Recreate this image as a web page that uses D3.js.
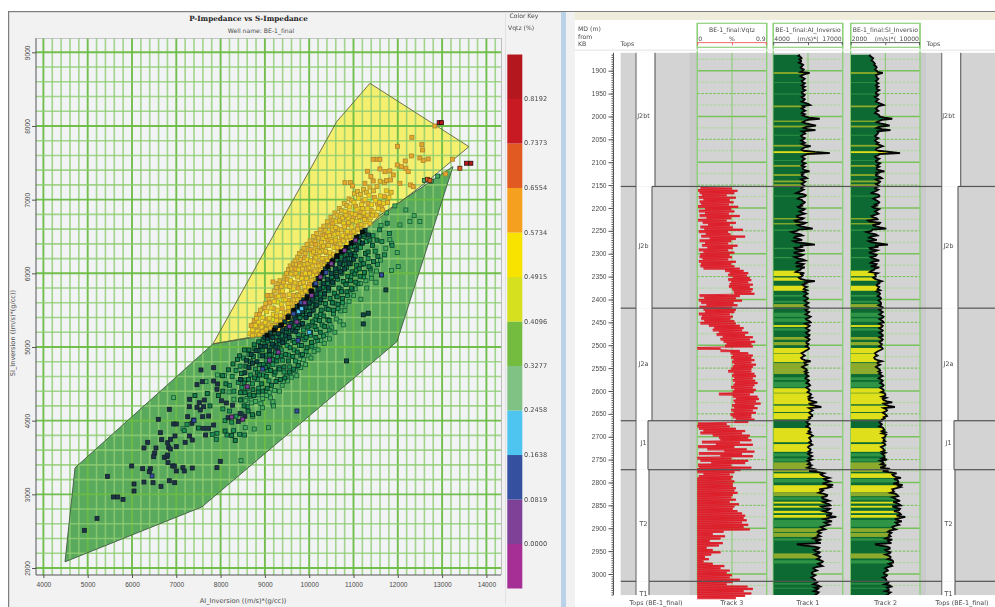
<!DOCTYPE html>
<html>
<head>
<meta charset="utf-8">
<title>P-Impedance vs S-Impedance</title>
<script src="https://cdn.jsdelivr.net/npm/d3@7/dist/d3.min.js"></script>
<style>
html, body { margin: 0; padding: 0; background: #fff; overflow: hidden; }
svg { display: block; filter: blur(0.45px); font-family: 'DejaVu Sans', sans-serif; }
text { fill: #4a4a4a; font-size: 6.6px; }
.axis path, .axis line { stroke: #555; }
</style>
</head>
<body>
<div id="chart"></div>
<script>
/* Crossplot */
var xTicks = [4000, 5000, 6000, 7000, 8000, 9000, 10000, 11000, 12000, 13000, 14000];
var yTicks = [2000, 3000, 4000, 5000, 6000, 7000, 8000, 9000];

var yellowPolygon = [[11371, 8579], [13606, 7719], [12703, 7267], [11327, 6633], [10695, 6294], [10311, 6046], [9792, 5598], [8956, 5164], [7828, 5042], [10620, 8058]];
var greenPolygon = [[7828, 5042], [4714, 3360], [4488, 2084], [7580, 2830], [11981, 5073], [13245, 7448], [11600, 6790], [11327, 6620], [10695, 6280], [10311, 6030], [9792, 5585], [8956, 5150]];

var keyLevels = [0, 0.0819, 0.1638, 0.2458, 0.3277, 0.4096, 0.4915, 0.5734, 0.6554, 0.7373, 0.8192];
var keyColors = ['#a62f96', '#7e4197', '#34509f', '#4dc5f0', '#7fc283', '#74bc40', '#d6e01e', '#f7e200', '#f5a01e', '#e05a22', '#c81a22', '#b5171f'];

var limePts = [[8740, 5300], [8900, 5290], [9020, 5240], [9180, 5370], [9290, 5610], [9410, 5640], [9520, 5460], [9600, 5780], [9740, 5710], [9870, 5750], [9960, 5940], [10130, 5940], [10250, 6290], [10370, 6110], [10510, 6260], [10600, 6490], [10790, 6450], [10920, 6700], [11120, 6710], [9380, 5340], [9180, 5260]];
var yellowPts = [[8660, 5180], [8720, 5230], [8760, 5170], [8790, 5290], [8830, 5210], [8860, 5340], [8900, 5180], [8930, 5270], [8950, 5400], [8990, 5220], [9010, 5330], [9040, 5480], [9070, 5260], [9100, 5390], [9120, 5190], [9140, 5530], [9170, 5300], [9190, 5440], [9210, 5620], [9240, 5230], [9260, 5360], [9280, 5500], [9310, 5690], [9330, 5310], [9350, 5430], [9370, 5580], [9400, 5760], [9420, 5290], [9440, 5470], [9460, 5640], [9490, 5830], [9510, 5380], [9530, 5540], [9550, 5710], [9580, 5900], [9600, 5450], [9620, 5610], [9640, 5790], [9660, 5980], [9690, 5510], [9710, 5680], [9730, 5860], [9760, 6050], [9790, 5600], [9810, 5750], [9830, 5930], [9860, 6120], [9880, 5670], [9900, 5820], [9920, 6000], [9950, 6190], [9980, 5730], [10000, 5900], [10020, 6080], [10050, 6260], [10070, 5810], [10090, 5970], [10110, 6160], [10140, 6330], [10170, 5880], [10190, 6050], [10210, 6230], [10240, 6400], [10260, 5960], [10280, 6120], [10300, 6310], [10330, 6470], [10360, 6040], [10380, 6200], [10400, 6380], [10430, 6550], [10450, 6110], [10470, 6280], [10490, 6460], [10520, 6620], [10540, 6190], [10560, 6350], [10580, 6530], [10610, 6700], [10640, 6260], [10660, 6430], [10680, 6600], [10710, 6770], [10740, 6340], [10760, 6510], [10780, 6680], [10810, 6840], [10840, 6400], [10860, 6570], [10880, 6750], [10910, 6900], [10940, 6460], [10960, 6630], [10980, 6810], [11010, 6960], [11040, 6520], [11060, 6700], [11080, 6870], [11110, 7020], [11140, 6590], [11160, 6760], [11180, 6930], [11220, 6650], [11240, 6820], [11260, 7000], [11300, 6700], [11320, 6880], [11350, 7060], [11390, 6760], [11410, 6930], [11460, 6830], [11500, 6990], [11560, 6880], [11610, 7050], [11680, 6950], [11740, 7120], [11800, 7030]];
var moreYellowPts = [[9530, 5480], [9560, 5820], [9570, 5590], [9590, 5990], [9630, 5520], [9660, 5640], [9680, 5870], [9700, 6000], [9730, 5640], [9740, 5950], [9770, 5700], [9790, 6100], [9800, 5860], [9840, 5730], [9850, 6060], [9870, 5880], [9900, 6120], [9920, 5760], [9940, 5930], [9970, 6130], [9990, 5810], [10010, 6000], [10030, 6170], [10060, 5900], [10080, 6100], [10100, 6290], [10130, 6030], [10150, 6210], [10170, 5970], [10190, 6310], [10220, 6100], [10240, 6290], [10250, 6040], [10280, 6420], [10290, 6200], [10320, 6370], [10340, 6110], [10370, 6300], [10390, 6500], [10410, 6170], [10440, 6380], [10460, 6510], [10480, 6220], [10510, 6430], [10530, 6590], [10550, 6260], [10590, 6450], [10600, 6620], [10630, 6350], [10650, 6540], [10680, 6720], [10700, 6400], [10730, 6590], [10750, 6750], [10770, 6440], [10800, 6630], [10830, 6790], [10850, 6490], [10890, 6690], [10920, 6500], [10970, 6720], [11010, 6570], [11040, 6800], [11090, 6600], [11130, 6770], [11170, 6660], [11200, 6880], [11250, 6730], [11310, 6790], [11370, 6680], [11430, 6790], [11520, 6790], [11590, 6960], [11660, 6860], [11770, 6960], [11850, 7100], [8720, 5160], [8810, 5390], [8870, 5170], [8940, 5210], [9030, 5240], [9090, 5300], [9130, 5260], [9210, 5290], [9260, 5420], [9320, 5240], [9360, 5350], [9440, 5340], [9480, 5460], [9560, 5420], [9520, 5590], [9620, 5530]];
var upperYellowPts = [[9210, 5760], [9260, 5810], [9300, 5860], [9340, 5900], [9370, 5820], [9420, 5880], [9450, 5950], [9490, 6000], [9530, 6050], [9570, 6100], [9600, 6060], [9640, 6130], [9680, 6170], [9710, 6120], [9740, 6220], [9780, 6270], [9810, 6190], [9840, 6300], [9880, 6340], [9910, 6270], [9950, 6390], [9990, 6320], [10020, 6440], [10060, 6400], [10100, 6500], [10130, 6430], [10170, 6540], [10210, 6480], [10250, 6590], [10290, 6520], [10330, 6640], [10370, 6580], [10410, 6700], [10450, 6640], [10490, 6760], [10540, 6720], [10580, 6820], [10630, 6790], [10680, 6880], [10730, 6850], [10790, 6950], [10850, 6920], [10900, 7010], [10960, 6990], [11020, 7080], [11090, 7110], [11160, 7070], [11230, 7140], [11290, 7100], [11370, 7170], [11450, 7120], [11530, 7180], [11600, 7250], [11700, 7230], [9140, 5700], [9090, 5650], [9020, 5590], [8960, 5520], [8900, 5500], [8820, 5440]];
var orangePts = [[8690, 5290], [8760, 5360], [8820, 5280], [8880, 5440], [8950, 5310], [9000, 5530], [9060, 5370], [9110, 5600], [9160, 5250], [9200, 5520], [9250, 5680], [9300, 5400], [9340, 5750], [9390, 5520], [9430, 5700], [9470, 5400], [9500, 5920], [9540, 5630], [9570, 5490], [9610, 5870], [9650, 5700], [9680, 6060], [9700, 5590], [9750, 5800], [9780, 6130], [9820, 5680], [9850, 5990], [9890, 6210], [9930, 5790], [9970, 6060], [10010, 5850], [10040, 6320], [10080, 6010], [10120, 6230], [10150, 6390], [10200, 6140], [10230, 5990], [10270, 6350], [10310, 6180], [10340, 6520], [10390, 6280], [10420, 6450], [10460, 6190], [10500, 6540], [10530, 6680], [10570, 6420], [10620, 6610], [10650, 6330], [10700, 6700], [10730, 6470], [10770, 6760], [10820, 6540], [10870, 6660], [10900, 6820], [10950, 6550], [11000, 6760], [11050, 6910], [11100, 6640], [11150, 6840], [11210, 6980], [11270, 6760], [11330, 6950], [11400, 6850], [11470, 7030], [11540, 6950], [11630, 6920], [11700, 7040], [12318, 7846], [12543, 7747], [12558, 7674], [11994, 7724], [11445, 7548], [11536, 7548], [11596, 7548], [12310, 7593], [12498, 7566], [12573, 7530], [12686, 7552], [12167, 7525], [11987, 7471], [12085, 7448], [12182, 7426], [12235, 7380], [11596, 7417], [11317, 7385], [11709, 7380], [11821, 7390], [11897, 7335], [11393, 7313], [11445, 7254], [11746, 7258], [11836, 7267], [12047, 7222], [12288, 7200], [12348, 7177], [13077, 7349], [13235, 7548], [10806, 7231], [10934, 7231], [10979, 7186], [11257, 7222], [12837, 8000], [9183, 5883], [9050, 5700]];
var hotPts = [[12671, 7276], [12724, 7258], [13401, 7426]];
var redPts = [[12934, 8045], [12985, 8045], [13551, 7494], [13649, 7494]];

var lightGreenPts = [[8600, 4300], [8700, 4240], [8850, 4350], [8950, 4300], [9020, 4410], [9100, 4380], [9180, 4230], [9290, 4560], [9390, 4480], [9480, 4600], [9580, 4640], [9690, 4680], [9760, 4790], [9870, 4830], [9990, 4880], [10110, 4940], [10200, 4960], [10340, 5050], [10460, 5110], [10580, 5200], [10690, 5350], [10770, 5300], [10470, 5300], [10806, 5494], [10580, 5594], [10900, 5620], [11000, 5700], [11167, 5648], [11300, 5800], [11408, 5933], [11506, 5879], [11633, 5978], [11859, 6037], [12009, 6091], [11987, 6281], [11859, 6408], [12047, 6657], [12273, 6702], [12370, 6783], [12498, 6702], [12182, 6860], [11934, 6915], [11750, 6820], [11620, 6650], [12600, 7260], [12900, 7320], [12760, 7250], [6940, 4312], [7150, 3890], [8459, 3457], [8760, 3887], [9083, 3905], [8730, 4059], [8948, 4176], [9196, 4199], [9181, 4258], [8557, 3905], [7670, 4530], [7930, 4620], [8090, 4610], [8190, 4390], [8300, 4290], [8480, 4290], [8570, 4270], [8680, 4330], [8790, 4260], [8910, 4230], [9040, 4340], [9130, 4310], [9220, 4410], [9330, 4400], [9410, 4530], [9510, 4540], [9600, 4590], [9720, 4610], [9810, 4720], [9920, 4760], [10040, 4850], [10130, 5020], [10260, 5090], [10380, 5170], [10500, 5260], [10610, 5380], [10710, 5490], [10810, 5570], [10920, 5720], [11040, 5790], [11160, 5860], [11280, 5900], [11400, 5990], [11520, 6030], [11610, 6180], [11730, 6340], [11820, 6460]];
var greenPts = [[8200, 4480], [8260, 4600], [8300, 4400], [8350, 4680], [8400, 4520], [8440, 4740], [8480, 4450], [8520, 4850], [8560, 4550], [8600, 4430], [8640, 4900], [8680, 4620], [8720, 4500], [8760, 4980], [8790, 4700], [8830, 4560], [8860, 4440], [8890, 4880], [8920, 4760], [8960, 4620], [9000, 5040], [9030, 4820], [9060, 4680], [9090, 4540], [9120, 5090], [9150, 4900], [9180, 4760], [9210, 4630], [9250, 5140], [9280, 4870], [9310, 4720], [9340, 5170], [9370, 4960], [9400, 4820], [9430, 4660], [9470, 5240], [9500, 5020], [9530, 4890], [9560, 4730], [9600, 5310], [9630, 5090], [9660, 4960], [9690, 4810], [9720, 5440], [9750, 5170], [9780, 5020], [9810, 4880], [9840, 5420], [9870, 5230], [9900, 5100], [9930, 4940], [9970, 5480], [10000, 5290], [10030, 5160], [10060, 5010], [10100, 5580], [10130, 5370], [10160, 5240], [10190, 5090], [10230, 5680], [10260, 5440], [10290, 5300], [10320, 5150], [10360, 5780], [10390, 5520], [10420, 5370], [10450, 5230], [10490, 5890], [10520, 5600], [10550, 5450], [10590, 5960], [10620, 5690], [10650, 5520], [10690, 6030], [10720, 5780], [10750, 5600], [10800, 6120], [10830, 5860], [10860, 5700], [10910, 6200], [10940, 5950], [10970, 5780], [11020, 6260], [11060, 6040], [11100, 5860], [11160, 6350], [11190, 6120], [11230, 5950], [11290, 6430], [11330, 6200], [11380, 6060], [11440, 6510], [11490, 6300], [11540, 6120], [11590, 6590], [11640, 6430], [11700, 6250], [11760, 6680], [11810, 6540], [11870, 6380], [8143, 3805], [8294, 3864], [8429, 3814], [8542, 3805], [7918, 3828], [7903, 3747], [7812, 3814], [8050, 4160], [8200, 4130], [8350, 4060], [8480, 4090], [8600, 4190], [8100, 4000], [8250, 3980], [7180, 3864], [7240, 3950]];
var moreGreenPts = [[8450, 4380], [8470, 4640], [8430, 4880], [8550, 4380], [8530, 4510], [8570, 4740], [8540, 4960], [8650, 4350], [8630, 4560], [8670, 4800], [8640, 4960], [8750, 4340], [8730, 4420], [8770, 4580], [8740, 4870], [8760, 5030], [8850, 4390], [8830, 4650], [8870, 4760], [8840, 4950], [8860, 5070], [8950, 4400], [8930, 4500], [8970, 4760], [8940, 4960], [8960, 5100], [9050, 4440], [9030, 4600], [9070, 4750], [9040, 4890], [9060, 5080], [9150, 4480], [9130, 4680], [9170, 4830], [9140, 5000], [9160, 5140], [9250, 4530], [9230, 4660], [9270, 4810], [9240, 4930], [9260, 5070], [9230, 5200], [9350, 4560], [9330, 4700], [9370, 4880], [9340, 5030], [9360, 5130], [9330, 5250], [9450, 4580], [9430, 4730], [9470, 4900], [9440, 5080], [9460, 5200], [9430, 5300], [9550, 4660], [9530, 4810], [9570, 4990], [9540, 5190], [9560, 5360], [9650, 4700], [9630, 4870], [9670, 5060], [9640, 5280], [9660, 5420], [9750, 4750], [9730, 4930], [9770, 5110], [9740, 5260], [9760, 5380], [9730, 5510], [9850, 4900], [9830, 5020], [9870, 5160], [9840, 5300], [9860, 5440], [9830, 5580], [9950, 4990], [9930, 5130], [9970, 5270], [9940, 5430], [9960, 5590], [9930, 5660], [10050, 5060], [10030, 5200], [10070, 5340], [10040, 5490], [10060, 5620], [10030, 5740], [10150, 5130], [10130, 5280], [10170, 5420], [10140, 5560], [10160, 5660], [10130, 5800], [10250, 5200], [10230, 5360], [10270, 5500], [10240, 5600], [10260, 5720], [10230, 5880], [10350, 5280], [10330, 5420], [10370, 5590], [10340, 5680], [10360, 5830], [10330, 5960], [10450, 5360], [10430, 5510], [10470, 5660], [10440, 5770], [10460, 5900], [10430, 6060], [10550, 5500], [10530, 5600], [10570, 5730], [10540, 5850], [10560, 5980], [10530, 6120], [10650, 5580], [10630, 5680], [10670, 5800], [10640, 5920], [10660, 6060], [10630, 6180], [10750, 5660], [10730, 5750], [10770, 5890], [10740, 6000], [10760, 6120], [10730, 6220], [10850, 5750], [10830, 5850], [10870, 5960], [10840, 6080], [10860, 6200], [10830, 6300], [10950, 5800], [10930, 5900], [10970, 6020], [10940, 6130], [10960, 6270], [10930, 6360], [11050, 5880], [11030, 5990], [11070, 6110], [11040, 6230], [11060, 6390], [11150, 5960], [11130, 6060], [11170, 6190], [11140, 6420], [11250, 6010], [11230, 6130], [11270, 6270], [11240, 6500], [11350, 6090], [11330, 6290], [11370, 6450], [11450, 6160], [11430, 6380], [11550, 6230], [11530, 6450], [7950, 4340], [8050, 4400], [8120, 4500], [8040, 4610], [8180, 4690], [8280, 4770], [8380, 4830], [8450, 4280], [8530, 4200], [8620, 4130], [8720, 4080], [8860, 4100], [8100, 3860], [8250, 3800], [8330, 3730], [7500, 3900], [7420, 4340], [7700, 4370], [7760, 4200], [8880, 4620], [9010, 4720], [9110, 4890], [9200, 5020], [9290, 4990], [9390, 5150], [9490, 5110], [9580, 5210], [9680, 5300], [9790, 5400], [9890, 5510], [9990, 5540], [10110, 5630], [10210, 5780], [10310, 5810], [10410, 5860], [10510, 5950], [10610, 6040], [10710, 6150], [10810, 6260], [10900, 6290], [11020, 6360], [11120, 6430], [11220, 6530]];
var darkPts = [[9000, 5130], [9060, 5120], [9130, 5190], [9180, 5130], [9240, 5260], [9300, 5180], [9350, 5290], [9400, 5220], [9450, 5340], [9490, 5250], [9540, 5420], [9590, 5320], [9640, 5490], [9680, 5380], [9730, 5550], [9770, 5450], [9810, 5570], [9850, 5480], [9880, 5640], [9930, 5540], [9960, 5690], [10000, 5600], [10040, 5760], [10080, 5650], [10120, 5840], [10160, 5720], [10200, 5930], [10240, 5790], [10290, 5990], [10330, 5860], [10370, 6060], [10410, 5920], [10450, 6120], [10500, 6000], [10540, 6180], [10590, 6060], [10640, 6240], [10690, 6130], [10750, 6290], [10810, 6190], [10870, 6350], [10930, 6250], [11000, 6420], [11060, 6320], [11130, 6500], [11200, 6410], [11260, 6580], [11340, 6520], [8800, 4950], [8900, 5010], [8950, 4880], [9020, 5010], [9100, 4950], [9170, 5040], [9250, 5000], [9320, 5090], [9400, 5060], [9470, 5150], [9550, 5130], [9620, 5230], [9700, 5210], [9770, 5300], [9850, 5320], [9930, 5400], [10010, 5440], [10090, 5500], [10170, 5570], [10260, 5640], [10350, 5720], [10440, 5800], [10530, 5880], [10620, 5960], [10710, 6020], [10800, 6060], [10900, 6130], [11000, 6190], [8550, 4650], [8640, 4720], [8720, 4780], [8820, 4800], [8450, 4560], [8580, 4820], [8690, 4900], [11220, 5436], [11333, 5458], [11220, 5313], [10844, 4811], [11731, 5775]];
var seamPts = [[9050, 5160], [9210, 5230], [9380, 5300], [9520, 5400], [9660, 5500], [9780, 5560], [9860, 5610], [9950, 5670], [10050, 5760], [10150, 5850], [10240, 5930], [10320, 6010], [10420, 6090], [10520, 6160], [10620, 6230], [10720, 6290], [10830, 6350], [10950, 6410], [11070, 6490], [11200, 6560]];
var sparsePts = [[4925, 2511], [5210, 2674], [5444, 3244], [5579, 2964], [5677, 2964], [5797, 2932], [5993, 3385], [6045, 3140], [6045, 3045], [6270, 3629], [6240, 3348], [6270, 3167], [6354, 3706], [6414, 3348], [6391, 3308], [6474, 3158], [6542, 3629], [6512, 3561], [6489, 3511], [6594, 4018], [6654, 3108], [6639, 3837], [6669, 3742], [6730, 3502], [6790, 3511], [6805, 3701], [6827, 3638], [6865, 3615], [6805, 3534], [6812, 3430], [6842, 4154], [6842, 3185], [6918, 3385], [6955, 3385], [6963, 3158], [6872, 3747], [6940, 3955], [7000, 3955], [6970, 3792], [7000, 3317], [7150, 3362], [7180, 3317], [7361, 3357], [7200, 3706], [7300, 3792], [7361, 3737], [7000, 3647], [7557, 4688], [7843, 4719], [7467, 4489], [7587, 4529], [7843, 4538], [7933, 4498], [7918, 4425], [7301, 4290], [7294, 4190], [7519, 4244], [7632, 4280], [7467, 4181], [7617, 4190], [7542, 4145], [7256, 4054], [7391, 4009], [7595, 4054], [7730, 4063], [7354, 3964], [7617, 3896], [7730, 3896], [7843, 3941], [7662, 3805], [7993, 3448], [7918, 3362], [8020, 4270], [8130, 4240], [8270, 4210], [8440, 4100], [8550, 4060], [8170, 4040], [8400, 3990]];
var purplePts = [[9550, 5280], [9720, 5340], [9900, 5600], [10050, 5700], [10250, 5950], [10500, 6130], [10800, 6310], [11050, 6450], [9300, 4930], [9100, 4820], [8600, 4460], [8250, 4050], [8500, 4020]];
var bluePts = [[9650, 5450], [9820, 5600], [10150, 5860], [10380, 6010], [9750, 5090], [8950, 4700], [9723, 4131], [11633, 5978], [6451, 3249], [7400, 4000]];
var cyanPts = [[9760, 5480], [9830, 5520], [10000, 5200]];

/* Well log */
var depthLabels = [1900, 1950, 2000, 2050, 2100, 2150, 2200, 2250, 2300, 2350, 2400, 2450, 2500, 2550, 2600, 2650, 2700, 2750, 2800, 2850, 2900, 2950, 3000];
var topNames = ['J2bt', 'J2b', 'J2a', 'J1', 'T2', 'T1'];
var topDepths = [1861, 2153, 2419, 2665, 2772, 3016];
var topLabelDepths = [1999, 2283, 2540, 2713, 2890, 3043];

// sampled every 5 m from 1865, the *Between lists sit 2.5 m below each sample
var aiStart = 1865;
var aiInversion = [
  9000, 9100, 8900, 9200, 9300, 9400, 9300, 9500, 10800, 9400,
  9500, 9700, 9400, 9600, 9900, 9500, 9700, 9400, 9800, 9500,
  9700, 9900, 10900, 9800, 9600, 9500, 9900, 10000, 12700, 9900,
  10100, 12000, 9700, 11900, 9800, 9500, 9400, 9700, 9500, 9300,
  11000, 9500, 9700, 14600, 9800, 9500, 9600, 9400, 9600, 9900,
  9500, 10800, 9700, 9400, 10300, 9500, 9700, 9600, 9300, 9700,
  8800, 9600, 9900, 8600, 9500, 9700, 9400, 8900, 9600, 9300,
  9100, 8500, 9400, 8200, 9700, 9100, 11400, 8400, 8000, 9500,
  7900, 9400, 8300, 11800, 9600, 8200, 9100, 8500, 9200, 8600,
  10000, 8300, 9400, 9900, 9100, 8200, 9200, 9300, 9100, 11800,
  10200, 9700, 9900, 10300, 10100, 10000, 10200, 10300, 10100, 10300,
  10300, 10500, 10200, 10400, 10500, 10700, 10300, 11000, 10400, 10500,
  10400, 10600, 10300, 10700, 10500, 10600, 10200, 10400, 10600, 10400,
  9700, 9600, 9500, 9400, 11000, 9900, 9800, 9800, 10300, 10400,
  10300, 10200, 10400, 10500, 10700, 10600, 10500, 10700, 10800, 10900,
  11200, 10700, 12200, 11000, 13000, 11100, 11000, 10900, 11300, 10900,
  10600, 10400, 10500, 10700, 10900, 11000, 11100, 11000, 10900, 11100,
  11000, 10800, 10700, 10900, 11100, 10800, 10900, 11200, 10700, 10500,
  10900, 11500, 10700, 13500, 13200, 14500, 13800, 14000, 15200, 14800,
  12600, 13000, 13500, 14000, 13200, 14500, 13800, 14700, 13400, 14300,
  14000, 14800, 15800, 13500, 15000, 14000, 13700, 13300, 12500, 12900,
  12300, 12000, 13000, 12200, 8400, 11800, 12400, 11900, 12500, 12200,
  12600, 12900, 13100, 12800, 12000, 11800, 11500, 11300, 11600, 11400,
  11700, 12000, 12400, 11800, 12100, 12500, 11900, 12100, 11800, 11600
];
var aiBetween = [
  8700, 9300, 9200, 8800, 9600, 9100, 9700, 9100, 9900, 9100,
  9900, 9300, 9900, 9300, 9500, 10000, 9300, 9900, 9300, 9900,
  9300, 10500, 9500, 9300, 10000, 9300, 9500, 10700, 10400, 9500,
  11000, 10300, 10400, 9400, 10000, 9200, 9900, 9200, 9900, 9800,
  9900, 9300, 11800, 10300, 9300, 9900, 9300, 10000, 9300, 9500,
  9900, 9400, 9300, 10000, 9200, 10000, 9300, 9900, 9200, 9300,
  8300, 10100, 8900, 9400, 9900, 9200, 8600, 9900, 8900, 9900,
  8400, 9700, 8000, 10100, 8600, 10200, 8700, 7400, 9100, 8100,
  8800, 7800, 10200, 9000, 8000, 9900, 7800, 9600, 8000, 9500,
  8500, 9700, 8200, 9200, 8500, 9800, 9500, 8800, 10000, 10000,
  9500, 10300, 9700, 9700, 10400, 9700, 10500, 9800, 10600, 9900,
  10700, 10000, 10700, 10000, 11000, 10100, 10800, 10000, 10800, 10100,
  10800, 10100, 10800, 10100, 10800, 10200, 10600, 10100, 10700, 10000,
  9300, 9900, 9200, 9900, 9800, 10300, 9400, 10200, 9900, 10000,
  10600, 10000, 10700, 10200, 10900, 10200, 10800, 10400, 11100, 10600,
  10600, 11500, 10800, 12000, 10700, 11400, 10700, 11300, 10700, 10500,
  10200, 10800, 10200, 10900, 10600, 10500, 11400, 10700, 11000, 10700,
  11300, 10500, 11000, 10600, 10500, 11300, 10600, 10400, 10900, 11200,
  10400, 12200, 12400, 12900, 13800, 13500, 14600, 13200, 14300, 14000,
  13300, 12500, 14100, 13100, 13900, 13300, 14500, 13000, 14600, 13300,
  14900, 13900, 14500, 14200, 13600, 14500, 12900, 13700, 12300, 12500,
  12800, 11500, 12000, 12900, 9500, 12600, 11600, 12700, 11700, 12800,
  12200, 13300, 12400, 13200, 11500, 12200, 11200, 11900, 11100, 11800,
  12300, 11500, 12800, 12400, 11600, 12300, 11700, 12600, 12100, 12000
];
var siInversion = [
  4300, 4400, 4500, 4600, 4800, 4900, 4900, 5000, 5700, 4900,
  5000, 5100, 5000, 5000, 5200, 5000, 5100, 4900, 5100, 5000,
  5000, 5200, 5800, 5100, 5000, 4900, 5100, 5300, 6800, 5300,
  5400, 6500, 5000, 6600, 5200, 5000, 4900, 5000, 4900, 5000,
  5700, 5000, 5200, 7700, 5200, 4900, 5100, 5000, 5200, 5300,
  5000, 5900, 5200, 5000, 5600, 5100, 5300, 5100, 4900, 5200,
  4700, 5100, 5300, 4600, 5100, 5200, 5000, 4700, 5100, 5000,
  4800, 4500, 5100, 4200, 5300, 4900, 6100, 4400, 4200, 5100,
  4100, 5000, 4400, 6300, 5200, 4300, 4800, 4500, 4900, 4500,
  5300, 4300, 4900, 5300, 4700, 4200, 4800, 4900, 4800, 5600,
  5300, 5000, 5200, 5400, 5300, 5300, 5400, 5400, 5400, 5500,
  5500, 5600, 5500, 5500, 5600, 5700, 5500, 5800, 5500, 5600,
  5500, 5600, 5500, 5700, 5500, 5600, 5400, 5500, 5600, 5500,
  5000, 4900, 4800, 4800, 5600, 5100, 5100, 5100, 5400, 5500,
  5500, 5400, 5500, 5600, 5700, 5700, 5600, 5800, 5900, 6000,
  6100, 5800, 6800, 6000, 7100, 6100, 6000, 5900, 6200, 5900,
  5600, 5400, 5500, 5700, 5900, 6000, 6100, 6000, 5900, 6000,
  5900, 5800, 5700, 5900, 6000, 5800, 5900, 6200, 5700, 5500,
  5900, 6400, 5700, 7300, 6900, 7800, 7400, 7500, 8000, 7800,
  6800, 7000, 7200, 7500, 7100, 7700, 7300, 7800, 7200, 7600,
  7500, 7800, 8300, 7100, 7900, 7400, 7100, 6900, 6500, 6700,
  6400, 6300, 6800, 6400, 4800, 6200, 6500, 6200, 6500, 6400,
  6600, 6800, 6900, 6700, 6300, 6200, 6000, 5900, 6100, 6000,
  6100, 6300, 6500, 6200, 6400, 6600, 6300, 6400, 6200, 6100
];
var siBetween = [
  4200, 4600, 4400, 4700, 4700, 5000, 4800, 5100, 5200, 5000,
  5200, 4900, 5200, 4900, 5000, 5300, 4900, 5200, 4800, 5200,
  4900, 5500, 5200, 4900, 5200, 4800, 5300, 5900, 5600, 5000,
  6000, 5300, 5600, 5100, 5100, 4800, 5200, 4800, 5200, 5400,
  5300, 4900, 6500, 5300, 4800, 5300, 4900, 5400, 5000, 5000,
  5300, 5000, 4900, 5400, 4900, 5400, 4900, 5300, 4800, 5000,
  4300, 5300, 4900, 4900, 5300, 4800, 4500, 5300, 4800, 5200,
  4400, 5000, 4000, 5400, 4500, 5400, 4500, 3800, 4900, 4300,
  4600, 4100, 5300, 4800, 4200, 5100, 4100, 5000, 4300, 4900,
  4500, 5000, 4300, 4800, 4400, 5100, 4900, 4600, 5200, 5200,
  5000, 5300, 5100, 5000, 5400, 5100, 5500, 5200, 5500, 5200,
  5700, 5300, 5700, 5300, 5800, 5300, 5700, 5300, 5700, 5300,
  5700, 5300, 5700, 5300, 5700, 5300, 5600, 5300, 5700, 5200,
  4800, 5100, 4700, 5100, 5100, 5400, 4900, 5300, 5200, 5300,
  5700, 5200, 5700, 5400, 5800, 5400, 5800, 5500, 6000, 5600,
  5700, 6200, 5800, 6400, 5800, 6200, 5700, 6100, 5800, 5600,
  5300, 5600, 5300, 5800, 5600, 5600, 6000, 5700, 5800, 5700,
  6000, 5500, 5800, 5600, 5600, 5900, 5600, 5400, 5800, 6000,
  5400, 6300, 6400, 6800, 7200, 7000, 7500, 6900, 7500, 7300,
  6900, 6600, 7400, 6800, 7300, 6900, 7600, 6800, 7700, 7000,
  7700, 7300, 7800, 7500, 7200, 7600, 6800, 7200, 6300, 6500,
  6600, 6000, 6300, 6700, 5300, 6500, 6000, 6600, 6000, 6600,
  6300, 6900, 6400, 6800, 6000, 6300, 5800, 6200, 5700, 6100,
  6400, 5900, 6700, 6400, 6000, 6400, 6000, 6500, 6200, 6100
];

var vqtzStart = 2155;
var vqtzLow = [
  .04, .01, .03, .06, .02, .08, .03, .05, .01, .10,
  .02, .10, .03, .12, .01, .07, .14, .04, .09, .02,
  .11, .05, .16, .03, .10, .06, .13, .02, .08, .04,
  .03, .07, .02, .05, .04, .08, .36, .42, .40, .46,
  .40, .44, .42, .41, .45, .47, .48, .03, .09, .02,
  .05, .12, .03, .08, .10, .02, .06, .05, .09, .04,
  .15, .22, .20, .28, .25, .33, .30, .34, .38, .36,
  .00, .30, .43, .46, .44, .47, .45, .48, .46, .44,
  .40, .47, .45, .48, .46, .49, .47, .44, .48, .46,
  .28, .46, .50, .47, .49, .45, .48, .44, .47, .43,
  .46, .50, .48, .01, .00, .02, .08, .04, .20, .28,
  .30, .06, .24, .01, .13, .35, .02, .30, .00, .04,
  .18, .01, .02, .00, .00, .08, .02, .00, .00, .00,
  .00, .00, .00, .00, .00, .00, .00, .00, .00, .00,
  .00, .00, .00, .00, .00, .00, .00, .00, .00, .00,
  .00, .00, .00, .00, .00, .00, .00, .00, .00, .00,
  .00, .00, .00, .00, .00, .00, .00, .00, .00, .00,
  .00, .00, .00, .00, .00, .00, .00, .00, .00, .00
];
var vqtzHigh = [
  .45, .52, .48, .38, .50, .42, .47, .41, .53, .44,
  .48, .41, .55, .44, .38, .50, .42, .46, .59, .40,
  .43, .62, .50, .44, .40, .52, .46, .40, .48, .42,
  .45, .40, .50, .44, .48, .55, .60, .66, .64, .68,
  .70, .66, .72, .68, .72, .70, .74, .55, .50, .58,
  .47, .52, .45, .50, .48, .42, .46, .43, .48, .50,
  .55, .60, .58, .66, .62, .72, .68, .75, .70, .72,
  .30, .55, .66, .72, .70, .74, .70, .76, .72, .70,
  .70, .74, .76, .72, .75, .78, .74, .72, .76, .73,
  .68, .78, .80, .76, .82, .74, .78, .72, .76, .70,
  .70, .74, .66, .38, .42, .50, .62, .58, .68, .66,
  .70, .55, .72, .48, .64, .74, .58, .72, .44, .66,
  .62, .44, .70, .56, .48, .42, .46, .44, .48, .46,
  .46, .50, .48, .52, .46, .44, .50, .42, .54, .48,
  .46, .52, .58, .62, .60, .64, .58, .66, .60, .68,
  .34, .20, .36, .30, .16, .33, .28, .12, .20, .30,
  .18, .10, .15, .08, .20, .35, .30, .42, .38, .45,
  .42, .55, .46, .38, .65, .72, .60, .70, .62, .50
];

// lithology intervals in the impedance tracks: top, base, class
var bandClassColors = ['#2f9446', '#8cab2c', '#dfe01b', '#0e6a33'];
var trackBands = [
  [1861, 3050, 3],
  [1903, 1907, 1], [1925, 1927, 0], [1950, 1952, 0], [1976, 1980, 1], [2009, 2012, 1], [2020, 2024, 1], [2040, 2042, 0],
  [2062, 2066, 1], [2076, 2080, 2], [2095, 2097, 0], [2106, 2110, 1], [2126, 2130, 1], [2140, 2144, 1], [2148, 2152, 1],
  [2173, 2175, 0], [2222, 2225, 1], [2233, 2236, 1], [2247, 2250, 0], [2287, 2290, 0], [2307, 2310, 0],
  [2337, 2349, 2], [2352, 2359, 2], [2370, 2381, 2], [2390, 2394, 0], [2403, 2407, 0], [2410, 2417, 1],
  [2429, 2438, 0], [2441, 2449, 0], [2456, 2460, 2], [2463, 2468, 0], [2482, 2488, 1], [2493, 2500, 1],
  [2506, 2517, 2], [2518, 2537, 2], [2539, 2563, 1], [2570, 2576, 0], [2580, 2592, 0], [2594, 2604, 2],
  [2605, 2629, 2], [2632, 2646, 2], [2648, 2662, 2], [2681, 2712, 2], [2716, 2733, 2], [2736, 2743, 0],
  [2747, 2754, 0], [2756, 2764, 1], [2764, 2777, 1], [2780, 2790, 2], [2792, 2800, 0], [2806, 2821, 2],
  [2821, 2830, 1], [2832, 2838, 0], [2842, 2846, 2], [2851, 2855, 2], [2862, 2867, 2], [2871, 2877, 2],
  [2882, 2897, 0], [2900, 2908, 1], [2910, 2919, 1], [2922, 2927, 0], [2955, 2966, 1], [2970, 2977, 0],
  [3020, 3023, 0], [3030, 3032, 0]
];

var width = 995;
var height = 607;

var svg = d3.select('#chart').append('svg').attr('width', width).attr('height', height);

/* Panels */
function box(x, y, w, h, fill) {
  return svg.append('rect').attr('x', x).attr('y', y).attr('width', w).attr('height', h).attr('fill', fill);
}
box(8, 11, 553, 596, '#f2f2f2');
box(8, 11, 987, 1.2, '#7d7d7d');
box(8, 11, 1.2, 596, '#7d7d7d');
box(561, 12, 5, 595, '#b9d2e8');
box(566, 12, 9, 595, '#f1f1f1');
box(575, 12, 420, 8, '#efecdc');
box(505, 14, 0.8, 590, '#dcdcdc');

/* Crossplot scales */
var xScale = d3.scaleLinear().domain([4000, 14000]).range([43.4, 486.4]);
var yScale = d3.scaleLinear().domain([2000, 9000]).range([568, 52.3]);
var plotLeft = 36, plotRight = 501, plotTop = 38, plotBottom = 575;

box(plotLeft, plotTop, plotRight - plotLeft, plotBottom - plotTop, '#f1f3f5');
var plot = svg.append('g');

var polyLine = d3.line().x(d => xScale(d[0])).y(d => yScale(d[1])).curve(d3.curveLinearClosed);
plot.append('path').attr('d', polyLine(greenPolygon)).attr('fill', '#5aaa5e');
plot.append('path').attr('d', polyLine(yellowPolygon)).attr('fill', '#f4ef6e');

var gridX = d3.range(4000, 14400, 200);
var gridY = d3.range(2000, 9200, 200);

plot.selectAll('.gx').data(gridX).join('line').attr('class', 'gx')
  .attr('x1', d => xScale(d)).attr('x2', d => xScale(d))
  .attr('y1', plotTop).attr('y2', plotBottom)
  .attr('stroke', d => d % 1000 === 0 ? '#6cbc44' : '#8fcc70')
  .attr('stroke-opacity', d => d % 1000 === 0 ? 0.95 : 0.8)
  .attr('stroke-width', d => d % 1000 === 0 ? 1.9 : 1.6);
plot.selectAll('.gy').data(gridY).join('line').attr('class', 'gy')
  .attr('x1', plotLeft).attr('x2', plotRight)
  .attr('y1', d => yScale(d)).attr('y2', d => yScale(d))
  .attr('stroke', d => d % 1000 === 0 ? '#6cbc44' : '#8fcc70')
  .attr('stroke-opacity', d => d % 1000 === 0 ? 0.95 : 0.8)
  .attr('stroke-width', d => d % 1000 === 0 ? 1.9 : 1.6);

plot.append('path').attr('d', polyLine(greenPolygon)).attr('fill', 'none').attr('stroke', '#3d5a3d').attr('stroke-width', 0.9);
plot.append('path').attr('d', polyLine(yellowPolygon)).attr('fill', 'none').attr('stroke', '#5f6340').attr('stroke-width', 0.9);

/* Scatter, drawn through the colour key */
var keyColor = d3.scaleThreshold().domain(keyLevels).range(keyColors);
var groups = [
  { pts: lightGreenPts, vqtz: 0.30, fill: '#49ad5c', stroke: '#14583a' },
  { pts: greenPts, vqtz: 0.36, fill: '#1f9350', stroke: '#0d3c30' },
  { pts: moreGreenPts, vqtz: 0.36, fill: '#14804a', stroke: '#07281f' },
  { pts: limePts, vqtz: 0.45, stroke: '#8e9a30' },
  { pts: upperYellowPts, vqtz: 0.55, fill: '#e0b828', stroke: '#a88a34' },
  { pts: orangePts, vqtz: 0.6, fill: '#e3a92a', stroke: '#ae8230' },
  { pts: yellowPts, vqtz: 0.53, fill: '#e9cf1c', stroke: '#b39a30' },
  { pts: moreYellowPts, vqtz: 0.53, fill: '#e4c224', stroke: '#ab8a30' },
  { pts: sparsePts, vqtz: 0.1, fill: '#1d3247', stroke: '#16202c' },
  { pts: darkPts, vqtz: 0.2, fill: '#0e4a45', stroke: '#08161a' },
  { pts: seamPts, vqtz: 0.1, fill: '#07100f', stroke: '#050808' },
  { pts: bluePts, vqtz: 0.12, stroke: '#131c38' },
  { pts: purplePts, vqtz: 0.04, stroke: '#22122c' },
  { pts: cyanPts, vqtz: 0.2, stroke: '#123040' },
  { pts: hotPts, vqtz: 0.7, stroke: '#5a2a10' },
  { pts: redPts, vqtz: 0.85, stroke: '#2a0d0d' }
];
groups.forEach(function(g) {
  plot.append('g').selectAll('rect').data(g.pts).join('rect')
    .attr('x', d => xScale(d[0]) - 2)
    .attr('y', d => yScale(d[1]) - 2)
    .attr('width', 4).attr('height', 4)
    .attr('fill', g.fill || keyColor(g.vqtz))
    .attr('stroke', g.stroke).attr('stroke-width', 0.8);
});

/* Crossplot axes */
var xAxis = d3.axisBottom(xScale).tickValues(xTicks).tickSize(3).tickPadding(4).tickFormat(d3.format('d'));
var yAxis = d3.axisLeft(yScale).tickValues(yTicks).tickSize(4).tickFormat(d3.format('d'));

var xg = svg.append('g').attr('class', 'axis').attr('transform', `translate(0,${plotBottom})`).call(xAxis);
xg.select('.domain').attr('d', `M${plotLeft},0H${plotRight}`);
xg.selectAll('text').attr('fill', '#4a4a4a').style('font-size', '6.6px');

var yg = svg.append('g').attr('class', 'axis').attr('transform', `translate(${plotLeft},0)`).call(yAxis);
yg.select('.domain').attr('d', `M0,${plotTop}V${plotBottom}`);
yg.selectAll('text')
  .attr('x', 0).attr('y', 0).attr('dy', 0).attr('text-anchor', 'middle')
  .attr('transform', 'translate(-6.5,0) rotate(-90)')
  .style('font-size', '6.6px').attr('fill', '#4a4a4a');
box(plotRight, plotTop, 0.8, plotBottom - plotTop, '#b0b0b0');
box(plotLeft, plotTop, plotRight - plotLeft, 0.7, '#b0b0b0');

function label(str, x, y, anchor, size) {
  return svg.append('text').attr('x', x).attr('y', y)
    .attr('text-anchor', anchor || 'start')
    .style('font-size', (size || 6.6) + 'px').text(str);
}

label('P-Impedance vs S-Impedance', 248.5, 20.5, 'middle', 7.2)
  .style('font-family', "'DejaVu Serif', serif").style('font-weight', 'bold').style('fill', '#222');
label('Well name: BE-1_final', 261, 33, 'middle', 6.1);
label('AI_Inversion ((m/s)*(g/cc))', 243, 603, 'middle', 6.6);
label('SI_Inversion ((m/s)*(g/cc))', 0, 0, 'middle', 6.6)
  .attr('transform', 'translate(15,333) rotate(-90)');

/* Colour key */
label('Color Key', 509.5, 17.5, 'start', 6.1);
label('Vqtz (%)', 508, 29.5, 'start', 6.1);
var keyY = d3.scaleLinear().domain([0, 0.8192]).range([544, 99]);
var keyEdges = [-0.0819].concat(keyLevels, [0.9011]);
svg.append('g').selectAll('rect').data(keyColors).join('rect')
  .attr('x', 507.3).attr('width', 15)
  .attr('y', (d, i) => keyY(keyEdges[i + 1]))
  .attr('height', (d, i) => keyY(keyEdges[i]) - keyY(keyEdges[i + 1]))
  .attr('fill', d => d);
svg.append('g').selectAll('text').data(keyLevels).join('text')
  .attr('x', 524).attr('y', d => keyY(d) + 2)
  .style('font-size', '6.6px')
  .text(d => d.toFixed(4));

/* Well log scales */
var depth = d3.scaleLinear().domain([1900, 3000]).range([70.7, 574]);
var logTop = depth(1861), logBottom = depth(3046);
var track3 = d3.scaleLinear().domain([0, 0.9]).range([697.3, 766.7]);
var track1 = d3.scaleLinear().domain([4000, 17000]).range([773.3, 842.7]);
var track2 = d3.scaleLinear().domain([2000, 10000]).range([850.7, 920]);

function zoneBase(i) { return i < topDepths.length - 1 ? depth(topDepths[i + 1]) : logBottom; }

// tops columns: grey either side of a white strip that steps at each zone
var leftStrip = [655, 652, 652, 648, 649, 649];
var rightStrip = [960.7, 958, 958, 954, 955, 955];
box(620.7, logTop, 374.3, logBottom - logTop, '#d3d3d3');
box(689.5, logTop, 7.5, logBottom - logTop, '#c9c9c9');
box(920, logTop, 6, logBottom - logTop, '#cbcbcb');

topDepths.forEach(function(d, i) {
  var y0 = depth(d), y1 = zoneBase(i);
  box(636, y0, leftStrip[i] - 636, y1 - y0, '#fff');
  box(941.7, y0, rightStrip[i] - 941.7, y1 - y0, '#fff');
  box(leftStrip[i] - 0.6, y0, 1.2, y1 - y0, '#666');
  box(rightStrip[i] - 0.6, y0, 1.2, y1 - y0, '#666');
  label(topNames[i], 643.5, depth(topLabelDepths[i]) + 2, 'middle', 6.4);
  label(topNames[i], 948.5, depth(topLabelDepths[i]) + 2, 'middle', 6.4);
});
box(635.4, logTop, 1.2, logBottom - logTop, '#777');
box(941.1, logTop, 1.2, logBottom - logTop, '#777');

/* Depth axis */
var depthMinor = d3.axisLeft(depth).tickValues(d3.range(1865, 3046, 5)).tickSize(2).tickFormat('');
var depthMajor = d3.axisLeft(depth).tickValues(depthLabels).tickSize(5).tickPadding(2).tickFormat(d3.format('d'));
svg.append('g').attr('class', 'axis').attr('transform', 'translate(613.5,0)').call(depthMinor)
  .select('.domain').attr('d', `M0,${logTop}V${logBottom}`);
var dg = svg.append('g').attr('class', 'axis').attr('transform', 'translate(613.5,0)').call(depthMajor);
dg.select('.domain').remove();
dg.selectAll('text').attr('fill', '#4a4a4a').style('font-size', '6.6px');

/* Track grid, under the curves */
function trackGrid(scale) {
  var left = scale.range()[0], right = scale.range()[1], mid = (left + right) / 2;
  var g = svg.append('g').attr('fill', 'none');
  g.selectAll('line').data(d3.range(1875, 3046, 25)).join('line')
    .attr('x1', left).attr('x2', right)
    .attr('y1', d => depth(d)).attr('y2', d => depth(d))
    .attr('stroke', d => d % 100 === 0 ? '#78c25c' : d % 50 === 0 ? '#6cc24c' : '#a8d892')
    .attr('stroke-width', d => d % 100 === 0 ? 1.4 : 1)
    .attr('stroke-dasharray', d => d % 100 === 0 ? null : '2.5 1.5');
  box(mid - 0.5, logTop, 1, logBottom - logTop, '#84c96a');
  box(left - 0.7, 23, 1.4, logBottom - 23, '#8fd07c');
  box(right - 0.7, 23, 1.4, logBottom - 23, '#8fd07c');
}
trackGrid(track3);
trackGrid(track1);
trackGrid(track2);

/* Vqtz */
var vqtzTrack = svg.append('g');
vqtzTrack.selectAll('rect').data(vqtzLow).join('rect')
  .attr('x', d => track3(d))
  .attr('width', (d, i) => track3(vqtzHigh[i]) - track3(d))
  .attr('y', (d, i) => depth(vqtzStart + i * 5))
  .attr('height', depth(5) - depth(0) + 0.1)
  .attr('fill', '#dd1c28').attr('fill-opacity', 0.85);
var zigzag = d3.line().x(d => track3(d[1])).y(d => depth(d[0]));
vqtzTrack.append('path')
  .attr('d', zigzag(vqtzLow.flatMap((d, i) => [[vqtzStart + i * 5, d], [vqtzStart + i * 5 + 2.5, vqtzHigh[i]]])))
  .attr('fill', 'none').attr('stroke', '#dd1c28').attr('stroke-width', 0.9);

/* Impedance tracks */
function impedanceTrack(id, values, between, scale) {
  var samples = values.flatMap((v, i) => [{ d: aiStart + i * 5, v: v }, { d: aiStart + i * 5 + 2.5, v: between[i] }]);
  var under = d3.area().y(s => depth(s.d)).x0(scale.range()[0]).x1(s => scale(s.v));
  var curve = d3.line().y(s => depth(s.d)).x(s => scale(s.v));
  var left = scale.range()[0], right = scale.range()[1];

  svg.append('clipPath').attr('id', 'under' + id).append('path').attr('d', under(samples));
  svg.append('clipPath').attr('id', 'frame' + id).append('rect')
    .attr('x', left - 1).attr('y', logTop).attr('width', right - left + 6).attr('height', logBottom - logTop);

  var g = svg.append('g').attr('clip-path', `url(#frame${id})`);
  g.append('g').attr('clip-path', `url(#under${id})`)
    .selectAll('rect').data(trackBands).join('rect')
    .attr('x', left).attr('width', right - left)
    .attr('y', b => depth(b[0])).attr('height', b => depth(b[1]) - depth(b[0]))
    .attr('fill', b => bandClassColors[b[2]]);
  g.append('path').attr('d', curve(samples)).attr('fill', 'none').attr('stroke', '#050505').attr('stroke-width', 1.8);
}
impedanceTrack(1, aiInversion, aiBetween, track1);
impedanceTrack(2, siInversion, siBetween, track2);

/* Zone boundary lines */
topDepths.slice(1).forEach(function(d, i) {
  var y = depth(d) - 0.6;
  var l = Math.min(leftStrip[i], leftStrip[i + 1]);
  var r = Math.min(rightStrip[i], rightStrip[i + 1]);
  box(620.7, y, 15.3, 1.2, '#555');
  box(l, y, 941.7 - l, 1.2, '#555');
  box(r, y, 995 - r, 1.2, '#555');
});

/* Header */
label('MD (m)', 578, 31, 'start', 6.2);
label('from', 578, 38.5, 'start', 6.2);
label('KB', 578, 46, 'start', 6.2);
label('Tops', 620.5, 46, 'start', 6.2);
label('Tops', 926.5, 46, 'start', 6.2);
box(575, 49.5, 420, 1.5, '#ececec');

function trackHeader(scale, title, minLabel, unitLabel, maxLabel, color) {
  var left = scale.range()[0], right = scale.range()[1], mid = (left + right) / 2;
  svg.append('rect').attr('x', left).attr('y', 23.3).attr('width', right - left).attr('height', 24)
    .attr('fill', 'none').attr('stroke', '#8fd07c').attr('stroke-width', 1.2);
  label(title, mid, 32, 'middle', 6.1);
  label(minLabel, left + 1, 40.5, 'start', 6.1);
  label(unitLabel, mid, 40.5, 'middle', 6.1);
  label(maxLabel, right - 1, 40.5, 'end', 6.1);
  box(left, 42.2, right - left, 0.9, color);
  box(left, 42.2, 0.9, 3, color);
  box(mid, 42.2, 0.9, 3, color);
  box(right - 0.9, 42.2, 0.9, 3, color);
}
trackHeader(track3, 'BE-1_final:Vqtz', '0', '%', '0.9', '#ef5a5a');
trackHeader(track1, 'BE-1_final:AI_Inversio', '4000', '(m/s)*(', '17000', '#555');
trackHeader(track2, 'BE-1_final:SI_Inversio', '2000', '(m/s)*(', '10000', '#555');

/* Footer */
label('Tops (BE-1_final)', 656, 604.5, 'middle', 6.4);
label('Track 3', 732, 604.5, 'middle', 6.4);
label('Track 1', 808, 604.5, 'middle', 6.4);
label('Track 2', 885.7, 604.5, 'middle', 6.4);
label('Tops (BE-1_final)', 962, 604.5, 'middle', 6.4);
</script>
</body>
</html>
